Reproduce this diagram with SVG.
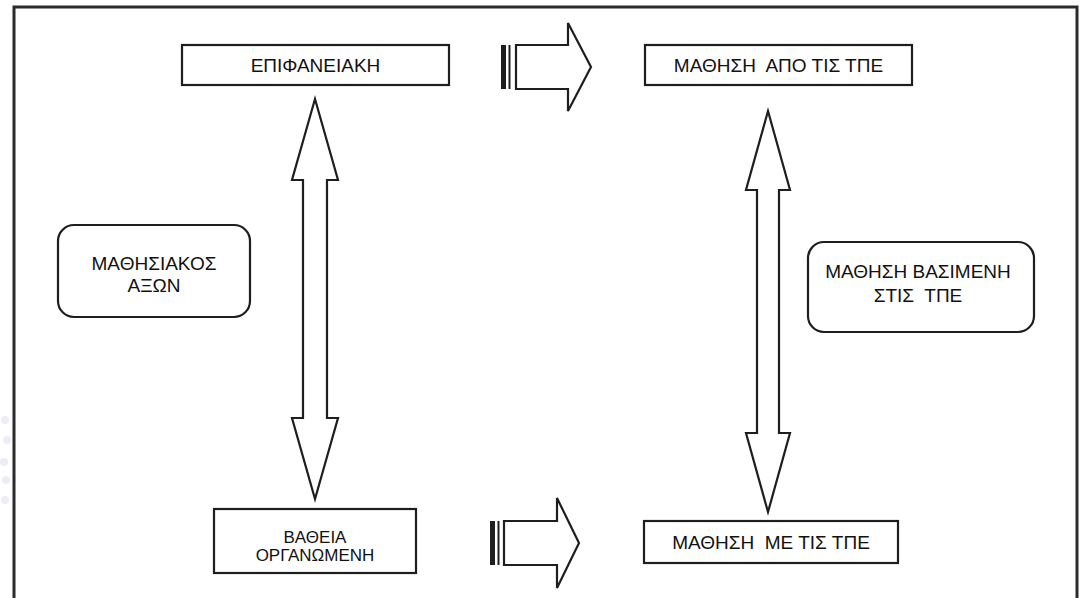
<svg xmlns="http://www.w3.org/2000/svg" width="1083" height="598" viewBox="0 0 1083 598">
  <style>
    .box { fill: #ffffff; stroke: #1e1e1e; stroke-width: 2.2; }
    .arrow { fill: #ffffff; stroke: #1e1e1e; stroke-width: 2.2; stroke-linejoin: miter; }
    .bar { fill: #1e1e1e; }
    .tail { stroke: #1e1e1e; stroke-width: 2; fill: none; }
    .label { font-family: "Liberation Sans", Arial, sans-serif; font-size: 19px; fill: #111111; text-anchor: middle; white-space: pre; }
    .small { font-size: 17px; }
    .dot { fill: #eceef5; }
  </style>

  <!-- page background with faint dotted margins -->
  <rect x="0" y="0" width="1083" height="598" fill="#ffffff"/>
  <g id="margin-dots">
    <circle class="dot" cx="5" cy="420" r="4"/>
    <circle class="dot" cx="7" cy="440" r="4"/>
    <circle class="dot" cx="4" cy="462" r="4"/>
    <circle class="dot" cx="6" cy="480" r="4"/>
    <circle class="dot" cx="5" cy="500" r="4"/>
  </g>

  <!-- outer frame (open at the bottom edge of the page) -->
  <path id="frame" d="M14,600 L14,7 L1077,7 L1077,600" fill="#ffffff" stroke="#2b2b2b" stroke-width="3"/>

  <g id="connectors">
    <!-- left vertical double arrow -->
    <path class="arrow" d="M315,99 L338,180 L327,180 L327,418 L338,418 L315,499 L292,418 L303,418 L303,180 L292,180 Z"/>
    <!-- right vertical double arrow -->
    <path class="arrow" d="M768,111 L790,190 L779,190 L779,433 L790,433 L768,512 L746,433 L757,433 L757,190 L746,190 Z"/>
    <!-- top block arrow with striped tail -->
    <g id="arrow-top">
      <rect class="bar" x="501" y="45" width="5" height="44"/>
      <line class="tail" x1="509.5" y1="45" x2="509.5" y2="89"/>
      <path class="arrow" d="M516,45 L568,45 L568,23 L591,67 L568,111 L568,89 L516,89 Z"/>
    </g>
    <!-- bottom block arrow with striped tail -->
    <g id="arrow-bottom">
      <rect class="bar" x="490" y="521" width="5" height="44"/>
      <line class="tail" x1="498.5" y1="521" x2="498.5" y2="565"/>
      <path class="arrow" d="M504,521 L557,521 L557,498 L579,543 L557,588 L557,565 L504,565 Z"/>
    </g>
  </g>

  <g id="node-epifaneiaki">
    <rect class="box" x="182" y="45" width="267" height="40"/>
    <text class="label" x="315.5" y="72">ΕΠΙΦΑΝΕΙΑΚΗ</text>
  </g>

  <g id="node-mathisi-apo">
    <rect class="box" x="645" y="45" width="267" height="40"/>
    <text class="label" x="778.5" y="72">ΜΑΘΗΣΗ  ΑΠΟ ΤΙΣ ΤΠΕ</text>
  </g>

  <g id="node-mathisiakos-axon">
    <rect class="box" x="58" y="225" width="192" height="92" rx="16" ry="16"/>
    <text class="label" x="154" y="270">ΜΑΘΗΣΙΑΚΟΣ</text>
    <text class="label" x="154" y="292">ΑΞΩΝ</text>
  </g>

  <g id="node-mathisi-vasismeni">
    <rect class="box" x="808" y="242" width="226" height="90" rx="16" ry="16"/>
    <text class="label" x="918" y="278">ΜΑΘΗΣΗ ΒΑΣΙΜΕΝΗ</text>
    <text class="label" x="918" y="302">ΣΤΙΣ  ΤΠΕ</text>
  </g>

  <g id="node-vatheia">
    <rect class="box" x="214" y="509" width="202" height="64"/>
    <text class="label small" x="315" y="543">ΒΑΘΕΙΑ</text>
    <text class="label small" x="315" y="561">ΟΡΓΑΝΩΜΕΝΗ</text>
  </g>

  <g id="node-mathisi-me">
    <rect class="box" x="644" y="521" width="254" height="42"/>
    <text class="label" x="771" y="549">ΜΑΘΗΣΗ  ΜΕ ΤΙΣ ΤΠΕ</text>
  </g>
</svg>
